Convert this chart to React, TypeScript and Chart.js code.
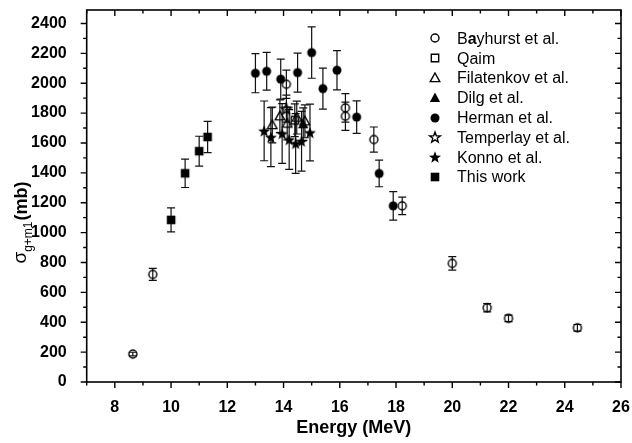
import React, { useEffect, useRef } from 'react';
import { Chart, registerables } from 'chart.js';

Chart.register(...registerables);

// ---- data (Energy in MeV, cross section in mb, uncertainty in mb) ----
const bayhurstE = [8.64, 9.35, 14.1, 16.2, 16.2, 17.21, 18.22, 20.0, 21.24, 22.0, 24.45];
const bayhurstS = [187, 720, 1993, 1835, 1779, 1623, 1179, 794, 497, 426, 363];
const bayhurstErr = [12, 40, 95, 95, 95, 84, 59, 45, 27, 22, 22];

const qaimE = [14.4];
const qaimS = [1752];
const qaimErr = [110];

const filatenkovE = [13.6, 13.87, 14.13, 14.47, 14.76];
const filatenkovS = [1720, 1779, 1730, 1770, 1745];
const filatenkovErr = [120, 110, 110, 110, 110];

const dilgE = [14.7];
const dilgS = [1725];
const dilgErr = [110];

const hermanE = [13.0, 13.4, 13.9, 14.5, 15.0, 15.4, 15.9, 16.6, 17.4, 17.9];
const hermanS = [2067, 2080, 2027, 2071, 2205, 1964, 2087, 1773, 1396, 1179];
const hermanErr = [131, 126, 134, 131, 172, 137, 131, 109, 89, 95];

const temperlayE = [14.1];
const temperlayS = [1830];
const temperlayErr = [90];

const konnoE = [13.31, 13.55, 13.95, 14.2, 14.43, 14.64, 14.94];
const konnoS = [1681, 1639, 1663, 1623, 1597, 1612, 1670];
const konnoErr = [200, 198, 200, 200, 200, 200, 190];

const thisWorkE = [10.0, 10.5, 11.0, 11.3];
const thisWorkS = [1085, 1397, 1545, 1640];
const thisWorkErr = [80, 95, 100, 105];

const seriesLabels = [
  'Bayhurst et al.',
  'Qaim',
  'Filatenkov et al.',
  'Dilg et al.',
  'Herman et al.',
  'Temperlay et al.',
  'Konno et al.',
  'This work',
];

const xMin = 7;
const xMax = 26;
const xStep = 2;
const yMin = 0;
const yMax = 2490;
const yStep = 200;

const FONT = '"Liberation Sans", Arial, Helvetica, sans-serif';

type Shape = 'circle' | 'square' | 'triangle' | 'star';

function makeSymbol(shape: Shape, filled: boolean): HTMLCanvasElement {
  const size = shape === 'star' ? 14 : 12;
  const c = document.createElement('canvas');
  c.width = size;
  c.height = size;
  const ctx = c.getContext('2d')!;
  const cx = size / 2;
  const cy = size / 2;
  ctx.lineWidth = 1.4;
  ctx.strokeStyle = '#000';
  ctx.fillStyle = '#000';
  ctx.beginPath();
  if (shape === 'circle') {
    ctx.arc(cx, cy, filled ? 4.5 : 4.0, 0, Math.PI * 2);
  } else if (shape === 'square') {
    const h = filled ? 4.3 : 3.7;
    ctx.rect(cx - h, cy - h, 2 * h, 2 * h);
  } else if (shape === 'triangle') {
    const r = filled ? 5.4 : 5.0;
    ctx.moveTo(cx, cy - r);
    ctx.lineTo(cx + r * 0.95, cy + r * 0.72);
    ctx.lineTo(cx - r * 0.95, cy + r * 0.72);
    ctx.closePath();
  } else {
    const R = filled ? 6.3 : 5.6;
    const r = R * 0.42;
    for (let i = 0; i < 10; i++) {
      const rad = i % 2 === 0 ? R : r;
      const a = -Math.PI / 2 + (i * Math.PI) / 5;
      const px = cx + rad * Math.cos(a);
      const py = cy + 0.6 + rad * Math.sin(a);
      if (i === 0) ctx.moveTo(px, py);
      else ctx.lineTo(px, py);
    }
    ctx.closePath();
  }
  if (filled) ctx.fill();
  else ctx.stroke();
  return c;
}

export default function App() {
  const canvasRef = useRef<HTMLCanvasElement | null>(null);

  useEffect(() => {
    document.body.style.margin = '0';
    const canvas = canvasRef.current;
    if (!canvas) return;

    const symbols = [
      makeSymbol('circle', false),
      makeSymbol('square', false),
      makeSymbol('triangle', false),
      makeSymbol('triangle', true),
      makeSymbol('circle', true),
      makeSymbol('star', false),
      makeSymbol('star', true),
      makeSymbol('square', true),
    ];

    const series = [
      [bayhurstE, bayhurstS, bayhurstErr],
      [qaimE, qaimS, qaimErr],
      [filatenkovE, filatenkovS, filatenkovErr],
      [dilgE, dilgS, dilgErr],
      [hermanE, hermanS, hermanErr],
      [temperlayE, temperlayS, temperlayErr],
      [konnoE, konnoS, konnoErr],
      [thisWorkE, thisWorkS, thisWorkErr],
    ];

    const datasets = series.map(([E, S, Err], i) => ({
      label: seriesLabels[i],
      data: E.map((x, k) => ({ x, y: S[k] })),
      errors: Err,
      pointStyle: symbols[i],
      showLine: false,
      borderColor: '#000',
      backgroundColor: '#000',
    }));

    const errorBars = {
      id: 'errorBars',
      beforeDatasetsDraw(chart: any) {
        const ctx = chart.ctx;
        const ys = chart.scales.y;
        ctx.save();
        ctx.strokeStyle = '#111';
        ctx.lineWidth = 1.2;
        chart.data.datasets.forEach((ds: any, di: number) => {
          const meta = chart.getDatasetMeta(di);
          meta.data.forEach((pt: any, k: number) => {
            const v = ds.data[k].y;
            const e = ds.errors[k];
            const x = pt.x;
            const yTop = ys.getPixelForValue(v + e);
            const yBot = ys.getPixelForValue(v - e);
            const cap = 4;
            ctx.beginPath();
            ctx.moveTo(x, yTop);
            ctx.lineTo(x, yBot);
            ctx.moveTo(x - cap, yTop);
            ctx.lineTo(x + cap, yTop);
            ctx.moveTo(x - cap, yBot);
            ctx.lineTo(x + cap, yBot);
            ctx.stroke();
          });
        });
        ctx.restore();
      },
    };

    const frame = {
      id: 'frame',
      afterDraw(chart: any) {
        const ctx = chart.ctx;
        const a = chart.chartArea;
        const xs = chart.scales.x;
        const ys = chart.scales.y;
        ctx.save();
        ctx.strokeStyle = '#000';
        ctx.lineWidth = 1.6;
        ctx.strokeRect(a.left, a.top, a.right - a.left, a.bottom - a.top);
        ctx.lineWidth = 1.4;
        ctx.beginPath();
        for (let v = xMin; v <= xMax + 1e-9; v += 1) {
          const major = Math.abs((v - 8) % xStep) < 1e-9;
          const px = xs.getPixelForValue(v);
          const L = major ? 6 : 3.5;
          ctx.moveTo(px, a.bottom);
          ctx.lineTo(px, a.bottom + L);
          ctx.moveTo(px, a.top);
          ctx.lineTo(px, a.top + L);
        }
        for (let v = yMin; v <= yMax; v += yStep / 2) {
          const major = v % yStep === 0;
          const py = ys.getPixelForValue(v);
          const L = major ? 6 : 3.5;
          ctx.moveTo(a.left, py);
          ctx.lineTo(a.left - L, py);
          ctx.moveTo(a.right, py);
          ctx.lineTo(a.right - L, py);
        }
        ctx.stroke();

        // axis titles
        ctx.fillStyle = '#000';
        ctx.font = `bold 18px ${FONT}`;
        ctx.textAlign = 'center';
        ctx.textBaseline = 'middle';
        ctx.fillText('Energy (MeV)', (a.left + a.right) / 2, 428);

        // y title: σ_{g+m1}(mb)
        ctx.translate(22, 223);
        ctx.rotate(-Math.PI / 2);
        const f1 = `19px ${FONT}`;
        const f2 = `12px ${FONT}`;
        const f3 = `bold 18px ${FONT}`;
        ctx.font = f1;
        const w1 = ctx.measureText('σ').width;
        ctx.font = f2;
        const w2 = ctx.measureText('g+m1').width;
        ctx.font = f3;
        const w3 = ctx.measureText('(mb)').width;
        let x0 = -(w1 + w2 + w3) / 2;
        ctx.textAlign = 'left';
        ctx.textBaseline = 'alphabetic';
        ctx.font = f1;
        ctx.fillText('σ', x0, 4);
        x0 += w1;
        ctx.font = f2;
        ctx.fillText('g+m1', x0, 10);
        x0 += w2 + 1;
        ctx.font = f3;
        ctx.fillText('(mb)', x0, 5);
        ctx.restore();

        // legend
        ctx.save();
        const regular = `16px ${FONT}`;
        const bold = `bold 16px ${FONT}`;
        ctx.fillStyle = '#000';
        ctx.textAlign = 'left';
        ctx.textBaseline = 'middle';
        chart.data.datasets.forEach((ds: any, i: number) => {
          const ly = 38.3 + i * 19.8;
          const img = symbols[i];
          ctx.drawImage(img, Math.round(435 - img.width / 2), Math.round(ly - img.height / 2));
          const label: string = ds.label;
          if (i === 0) {
            // the reference shows the "a" of Bayhurst in bold
            let tx = 457;
            const parts: [string, string][] = [
              [label.slice(0, 1), regular],
              [label.slice(1, 2), bold],
              [label.slice(2), regular],
            ];
            parts.forEach(([t, f]) => {
              ctx.font = f;
              ctx.fillText(t, tx, ly + 1);
              tx += ctx.measureText(t).width;
            });
          } else {
            ctx.font = regular;
            ctx.fillText(label, 457, ly + 1);
          }
        });
        ctx.restore();
      },
    };

    const chart = new Chart(canvas, {
      type: 'scatter',
      data: { datasets: datasets as any },
      options: {
        animation: false,
        responsive: false,
        maintainAspectRatio: false,
        layout: { padding: { top: 10, right: 11, left: 0, bottom: 0 } },
        plugins: {
          legend: { display: false },
          tooltip: { enabled: false },
          title: { display: false },
        },
        scales: {
          x: {
            type: 'linear',
            min: xMin,
            max: xMax,
            grid: { display: false },
            border: { display: false },
            afterFit: (s: any) => {
              s.height = 61;
              s.paddingLeft = 0;
              s.paddingRight = 0;
            },
            ticks: {
              stepSize: xStep,
              includeBounds: false,
              padding: 8,
              color: '#000',
              font: { family: FONT, size: 16, weight: 'bold' },
              maxRotation: 0,
              autoSkip: false,
              callback: (v: any) => String(v),
            },
          },
          y: {
            type: 'linear',
            min: yMin,
            max: yMax,
            grid: { display: false },
            border: { display: false },
            afterFit: (s: any) => {
              s.width = 86.7;
              s.paddingTop = 0;
              s.paddingBottom = 0;
            },
            ticks: {
              stepSize: yStep,
              includeBounds: false,
              padding: 12,
              color: '#000',
              font: { family: FONT, size: 16, weight: 'bold' },
              autoSkip: false,
              callback: (v: any) => String(v),
            },
          },
        },
      } as any,
      plugins: [errorBars, frame],
    });

    return () => chart.destroy();
  }, []);

  return (
    <div style={{ width: 632, height: 443, background: '#fff' }}>
      <canvas ref={canvasRef} width={632} height={443} />
    </div>
  );
}
